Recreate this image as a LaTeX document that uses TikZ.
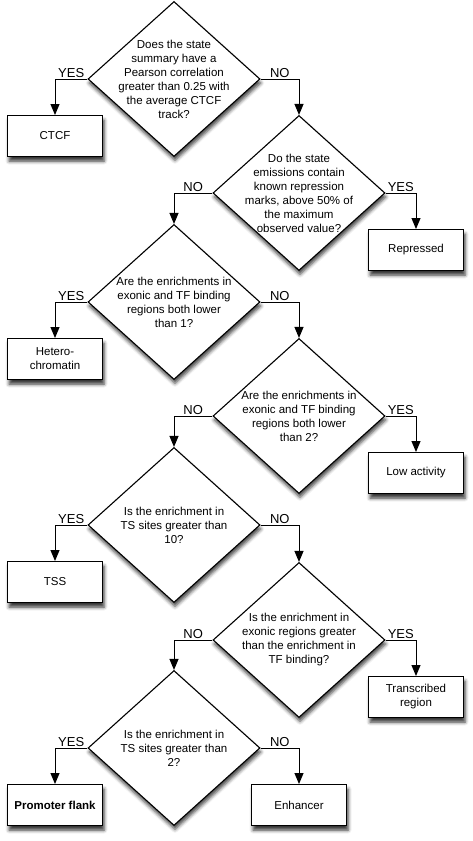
\documentclass[tikz,border=0pt]{standalone}
\usepackage{fontspec}
\setmainfont{Liberation Sans}
\usetikzlibrary{shapes.geometric,arrows.meta,shadows.blur}
\begin{document}
\begin{tikzpicture}[x=1pt,y=-1pt,
  qdia/.style={diamond,draw,line width=1.1pt,fill=white,minimum width=172pt,minimum height=155pt,inner sep=0pt,
    blur shadow={shadow xshift=1pt,shadow yshift=-4pt,shadow blur radius=3.5pt,shadow opacity=75}},
  qtext/.style={align=center,font=\fontsize{11.5}{14}\selectfont,inner sep=0pt},
  leaf/.style={rectangle,draw,line width=1pt,fill=white,minimum width=95pt,minimum height=41pt,align=center,
    font=\fontsize{11.5}{14}\selectfont,
    blur shadow={shadow xshift=1.5pt,shadow yshift=-4.5pt,shadow blur radius=3.5pt,shadow opacity=80}},
  lab/.style={font=\fontsize{13}{15}\selectfont,inner sep=1pt,above},
  arr/.style={line width=1pt,-{Triangle[width=9pt,length=11pt]}}
]
\useasboundingbox (0,0) rectangle (473,841);

% decisions
\node[qdia] (d1) at (174,79) {};
\node[qtext] (d1t) at (d1.center) {Does the state\\summary have a\\Pearson correlation\\greater than 0.25 with\\the average CTCF\\track?};
\node[qdia] (d2) at (299,193) {};
\node[qtext] (d2t) at (d2.center) {Do the state\\emissions contain\\known repression\\marks, above 50\% of\\the maximum\\observed value?};
\node[qdia] (d3) at (174,302) {};
\node[qtext] (d3t) at (d3.center) {Are the enrichments in\\exonic and TF binding\\regions both lower\\than 1?};
\node[qdia] (d4) at (299,416) {};
\node[qtext] (d4t) at (d4.center) {Are the enrichments in\\exonic and TF binding\\regions both lower\\than 2?};
\node[qdia] (d5) at (174,525) {};
\node[qtext] (d5t) at (d5.center) {Is the enrichment in\\TS sites greater than\\10?};
\node[qdia] (d6) at (299,640) {};
\node[qtext] (d6t) at (d6.center) {Is the enrichment in\\exonic regions greater\\than the enrichment in\\TF binding?};
\node[qdia] (d7) at (174,748) {};
\node[qtext] (d7t) at (d7.center) {Is the enrichment in\\TS sites greater than\\2?};

% outcomes
\node[leaf] (ctcf) at (55,136) {CTCF};
\node[leaf] (rep) at (416,250) {Repressed};
\node[leaf] (het) at (55,359) {Hetero-\\chromatin};
\node[leaf] (low) at (416,473) {Low activity};
\node[leaf] (tss) at (55,582) {TSS};
\node[leaf] (tr) at (416,697) {Transcribed\\region};
\node[leaf] (pf) at (55,805) {\bfseries Promoter flank};
\node[leaf] (enh) at (299,805) {Enhancer};

% connectors
\draw[arr] (d1.west) -| node[pos=0.25,lab]{YES} (ctcf.north);
\draw[arr] (d1.east) -| node[pos=0.25,lab]{NO} (d2.north);
\draw[arr] (d2.west) -| node[pos=0.25,lab]{NO} (d3.north);
\draw[arr] (d2.east) -| node[pos=0.25,lab]{YES} (rep.north);
\draw[arr] (d3.west) -| node[pos=0.25,lab]{YES} (het.north);
\draw[arr] (d3.east) -| node[pos=0.25,lab]{NO} (d4.north);
\draw[arr] (d4.west) -| node[pos=0.25,lab]{NO} (d5.north);
\draw[arr] (d4.east) -| node[pos=0.25,lab]{YES} (low.north);
\draw[arr] (d5.west) -| node[pos=0.25,lab]{YES} (tss.north);
\draw[arr] (d5.east) -| node[pos=0.25,lab]{NO} (d6.north);
\draw[arr] (d6.west) -| node[pos=0.25,lab]{NO} (d7.north);
\draw[arr] (d6.east) -| node[pos=0.25,lab]{YES} (tr.north);
\draw[arr] (d7.west) -| node[pos=0.25,lab]{YES} (pf.north);
\draw[arr] (d7.east) -| node[pos=0.25,lab]{NO} (enh.north);
\end{tikzpicture}
\end{document}
